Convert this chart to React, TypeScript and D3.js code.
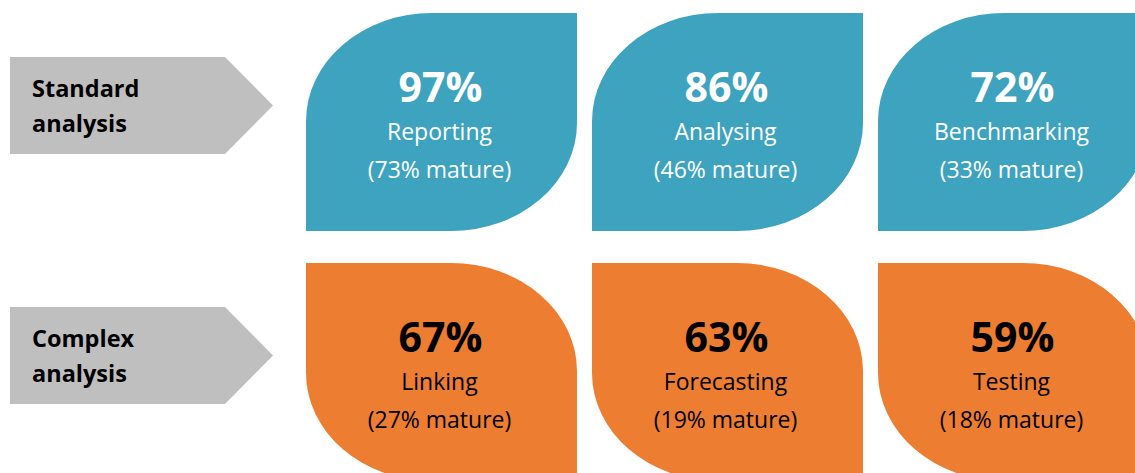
import React from "react";
import * as d3 from "d3";

const groups = ["Standard analysis", "Complex analysis"];
const groupLines = [["Standard", "analysis"], ["Complex", "analysis"]];
const categories = [
  ["Reporting", "Analysing", "Benchmarking"],
  ["Linking", "Forecasting", "Testing"],
];
const usage = [
  [97, 86, 72],
  [67, 63, 59],
];
const mature = [
  [73, 46, 33],
  [27, 19, 18],
];

const W = 1135;
const H = 473;
const FONT = "'Open Sans', 'Noto Sans', sans-serif";

const blue = "#3DA3BF";
const orange = "#ED7D31";
const gray = "#BFBFBF";

export default function App() {
  const x = d3.scaleBand<number>().domain([0, 1, 2]).range([306, 1149]).paddingInner(15 / 286).paddingOuter(0);
  const y = d3.scaleBand<number>().domain([0, 1]).range([13, 481]).paddingInner(30 / 234).paddingOuter(0);
  const w = x.bandwidth();
  const h = y.bandwidth();
  const rx = 126;
  const ry = 108;

  const leafA = (x0: number, y0: number) =>
    `M${x0},${y0 + ry} L${x0},${y0 + h} L${x0 + w - rx},${y0 + h} ` +
    `A${rx},${ry} 0 0 0 ${x0 + w},${y0 + h - ry} L${x0 + w},${y0} L${x0 + rx},${y0} ` +
    `A${rx},${ry} 0 0 0 ${x0},${y0 + ry} Z`;
  const leafB = (x0: number, y0: number) =>
    `M${x0},${y0} L${x0 + w - rx},${y0} A${rx},${ry} 0 0 1 ${x0 + w},${y0 + ry} ` +
    `L${x0 + w},${y0 + h} L${x0 + rx},${y0 + h} A${rx},${ry} 0 0 1 ${x0},${y0 + h - ry} Z`;

  return (
    <svg
      width={W}
      height={H}
      style={{ position: "absolute", left: 0, top: 0, background: "#fff" }}
      fontFamily={FONT}
    >
      {groups.map((g, gi) => {
        const y0 = y(gi)!;
        const ay = y0 + 44;
        const ah = 97;
        const mid = ay + ah / 2;
        return (
          <g key={g}>
            <path
              d={`M10,${ay} L225,${ay} L273,${mid} L225,${ay + ah} L10,${ay + ah} Z`}
              fill={gray}
            />
            {groupLines[gi].map((t, li) => (
              <text
                key={li}
                x={32}
                y={ay + 40 + li * 35}
                fontSize={23.5}
                fontWeight={700}
                fill="#000"
              >
                {t}
              </text>
            ))}
            {categories[gi].map((c, ci) => {
              const x0 = x(ci)!;
              const cx = x0 + w / 2 - 2;
              const fill = gi === 0 ? blue : orange;
              const tc = gi === 0 ? "#fff" : "#000";
              return (
                <g key={c}>
                  <path d={gi === 0 ? leafA(x0, y0) : leafB(x0, y0)} fill={fill} />
                  <text x={cx + 1} y={y0 + 89} textAnchor="middle" fontSize={41} fontWeight={700} fill={tc}>
                    {usage[gi][ci]}%
                  </text>
                  <text x={cx} y={y0 + 127} textAnchor="middle" fontSize={23} fill={tc}>
                    {c}
                  </text>
                  <text x={cx} y={y0 + 165} textAnchor="middle" fontSize={23} fill={tc}>
                    ({mature[gi][ci]}% mature)
                  </text>
                </g>
              );
            })}
          </g>
        );
      })}
    </svg>
  );
}
